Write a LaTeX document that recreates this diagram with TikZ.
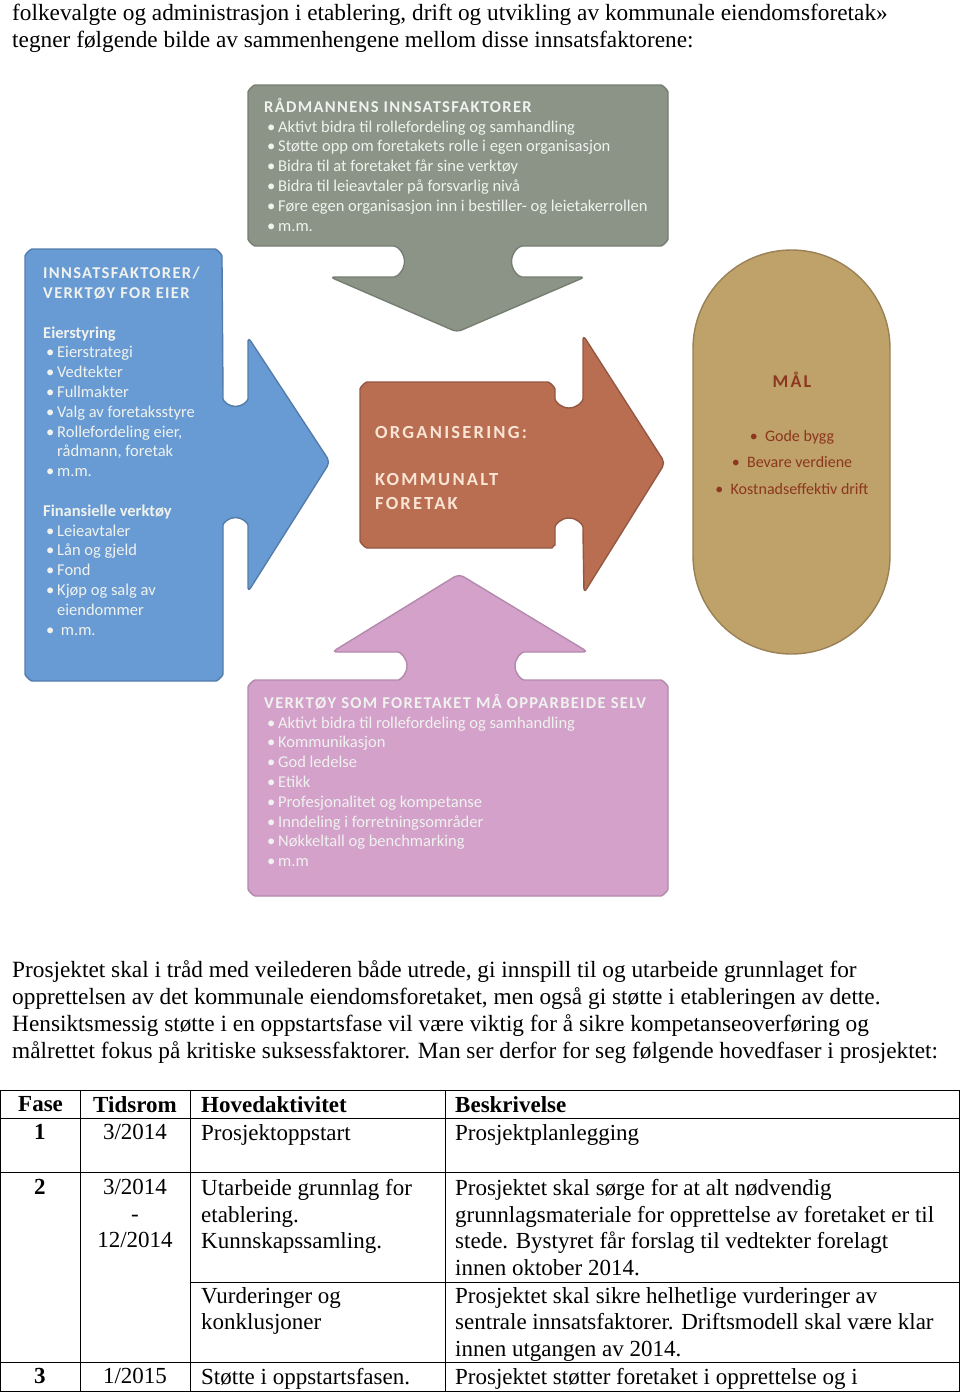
\documentclass[tikz,border=0pt]{standalone}
\usepackage{fontspec}
\setmainfont{Liberation Serif}
\newfontfamily\diafont{Carlito}
\newfontfamily\capsfont[LetterSpace=8]{Carlito}
\newfontfamily\widecapsfont[LetterSpace=12]{Carlito}
\definecolor{raadgray}{RGB}{139,148,134}
\definecolor{eierblue}{RGB}{104,155,212}
\definecolor{orgbrown}{RGB}{185,110,82}
\definecolor{maltan}{RGB}{191,161,106}
\definecolor{selvpink}{RGB}{211,161,202}
\definecolor{maltext}{RGB}{140,55,30}
\definecolor{orgtext}{RGB}{250,228,212}
\definecolor{lighttext}{RGB}{240,242,238}
\newcommand\bul{\hspace*{3pt}\makebox[11pt][l]{\textbullet}}
\newcommand\boxtitle[1]{{\capsfont\bfseries #1}}
\tikzset{
  shapeline/.style={line width=1.4pt, rounded corners=5},
  boxtext/.style={anchor=north west, inner sep=0pt, align=left, text=lighttext,
    font=\diafont\fontsize{16.5}{19.8}\selectfont},
  bodytext/.style={anchor=north west, inner sep=0pt, align=left,
    font=\fontsize{23.3}{27}\selectfont},
  cell/.style={anchor=north west, inner sep=0pt, align=left,
    font=\fontsize{23}{26.7}\selectfont},
  numcell/.style={cell, anchor=north, align=center},
  headcell/.style={cell, font=\bfseries\fontsize{23}{26.7}\selectfont},
  rule/.style={line width=0.9pt}
}
\begin{document}
\begin{tikzpicture}[x=1pt,y=-1pt]
\useasboundingbox (0,0) rectangle (960,1393);
\fill[white] (0,0) rectangle (960,1393);

% text above the picture
\node[bodytext] (intro) at (12,4) {folkevalgte og administrasjon i etablering, drift og utvikling av kommunale eiendomsforetak»\\
tegner følgende bilde av sammenhengene mellom disse innsatsfaktorene:};

% the five shapes
\draw[shapeline, fill=raadgray, draw=raadgray!85!black]
  (248,97) arc(180:270:12) -- (656,85) arc(270:360:12) -- (668,234) arc(0:90:12)
  -- (527,246) arc(-90:-270:15.5) -- (585,277) -- (457,332) -- (330,277)
  -- (389,277) arc(90:-90:15.5) -- (260,246) arc(90:180:12) -- cycle;
\draw[shapeline, fill=eierblue, draw=eierblue!80!black]
  (25,261) arc(180:270:12) -- (210,249) arc(270:360:12) -- (223,394) arc(180:0:12.5)
  -- (248,337) -- (330,462) -- (248,592) -- (248,530) arc(0:-180:12.5)
  -- (223,669) arc(0:90:12) -- (37,681) arc(90:180:12) -- cycle;
\draw[shapeline, fill=orgbrown, draw=orgbrown!80!black]
  (360,394) arc(180:270:12) -- (543,382) arc(270:360:12) -- (555,394) arc(180:0:14)
  -- (583,335) -- (665,463) -- (584,593) -- (583,532) arc(0:-180:14)
  -- (555,540) arc(0:90:8) -- (372,548) arc(90:180:12) -- cycle;
\draw[line width=1.4pt, fill=maltan, draw=maltan!80!black, rounded corners=98.5]
  (693,250) rectangle (890,654);
\draw[shapeline, fill=selvpink, draw=selvpink!85!black]
  (248,692) arc(180:270:12) -- (393,680) arc(90:-90:14) -- (332,652) -- (459,574)
  -- (588,652) -- (529,652) arc(-90:-270:14) -- (656,680) arc(270:360:12)
  -- (668,884) arc(0:90:12) -- (260,896) arc(90:180:12) -- cycle;

% texts in the shapes
\node[boxtext] (raad) at (264,98) {\boxtitle{RÅDMANNENS INNSATSFAKTORER}\\
\bul Aktivt bidra til rollefordeling og samhandling\\
\bul Støtte opp om foretakets rolle i egen organisasjon\\
\bul Bidra til at foretaket får sine verktøy\\
\bul Bidra til leieavtaler på forsvarlig nivå\\
\bul Føre egen organisasjon inn i bestiller- og leietakerrollen\\
\bul m.m.};
\node[boxtext] (eier) at (43,267) {\boxtitle{INNSATSFAKTORER/}\\
\boxtitle{VERKTØY FOR EIER}\\[19.8pt]
\textbf{Eierstyring}\\
\bul Eierstrategi\\
\bul Vedtekter\\
\bul Fullmakter\\
\bul Valg av foretaksstyre\\
\bul Rollefordeling eier,\\
\hspace*{14pt}rådmann, foretak\\
\bul m.m.\\[19.8pt]
\textbf{Finansielle verktøy}\\
\bul Leieavtaler\\
\bul Lån og gjeld\\
\bul Fond\\
\bul Kjøp og salg av\\
\hspace*{14pt}eiendommer\\
\bul \ m.m.};
\node[boxtext, text=orgtext, font=\widecapsfont\bfseries\fontsize{18.5}{23.8}\selectfont]
  (org) at (375,426) {ORGANISERING:\\[23.8pt] KOMMUNALT\\ FORETAK};
\node[inner sep=0pt, text=maltext, font=\widecapsfont\bfseries\fontsize{18}{19}\selectfont]
  (mal) at (792,380) {MÅL};
\node[inner sep=0pt, align=center, text=maltext, font=\diafont\fontsize{16}{26.5}\selectfont]
  (malliste) at (792,462) {\textbullet\ \ Gode bygg\\ \textbullet\ \ Bevare verdiene\\
  \textbullet\ \ Kostnadseffektiv drift};
\node[boxtext] (selv) at (264,694) {\boxtitle{VERKTØY SOM FORETAKET MÅ OPPARBEIDE SELV}\\
\bul Aktivt bidra til rollefordeling og samhandling\\
\bul Kommunikasjon\\
\bul God ledelse\\
\bul Etikk\\
\bul Profesjonalitet og kompetanse\\
\bul Inndeling i forretningsområder\\
\bul Nøkkeltall og benchmarking\\
\bul m.m};

% text below the picture
\node[bodytext] (prosjekt) at (12,960) {Prosjektet skal i tråd med veilederen både utrede, gi innspill til og utarbeide grunnlaget for\\
opprettelsen av det kommunale eiendomsforetaket, men også gi støtte i etableringen av dette.\\
Hensiktsmessig støtte i en oppstartsfase vil være viktig for å sikre kompetanseoverføring og\\
målrettet fokus på kritiske suksessfaktorer. Man ser derfor for seg følgende hovedfaser i prosjektet:};

% table of phases
\draw[rule] (0,1090) -- (960,1090) (0,1118) -- (960,1118) (0,1172) -- (960,1172)
  (190,1282) -- (960,1282) (0,1362) -- (960,1362) (0,1391) -- (960,1391);
\draw[rule] (0.5,1090) -- (0.5,1391) (80,1090) -- (80,1391) (190,1090) -- (190,1391)
  (445,1090) -- (445,1391) (959.5,1090) -- (959.5,1391);
\node[headcell] (fase) at (18,1096) {Fase};
\node[headcell] (tidsrom) at (93,1096) {Tidsrom};
\node[headcell] (hoved) at (201,1096) {Hovedaktivitet};
\node[headcell] (beskr) at (455,1096) {Beskrivelse};
\node[numcell, font=\bfseries\fontsize{23}{26.7}\selectfont] (faseA) at (40,1124) {1};
\node[numcell] (tidA) at (135,1124) {3/2014};
\node[cell] (hovedA) at (201,1124) {Prosjektoppstart};
\node[cell] (beskrA) at (455,1124) {Prosjektplanlegging};
\node[numcell, font=\bfseries\fontsize{23}{26.7}\selectfont] (faseB) at (40,1179) {2};
\node[numcell] (tidB) at (135,1179) {3/2014\\ -\\ 12/2014};
\node[cell] (hovedB) at (201,1179) {Utarbeide grunnlag for\\ etablering.\\ Kunnskapssamling.};
\node[cell] (beskrB) at (455,1179) {Prosjektet skal sørge for at alt nødvendig\\
grunnlagsmateriale for opprettelse av foretaket er til\\
stede. Bystyret får forslag til vedtekter forelagt\\
innen oktober 2014.};
\node[cell] (hovedC) at (201,1287) {Vurderinger og\\ konklusjoner};
\node[cell] (beskrC) at (455,1287) {Prosjektet skal sikre helhetlige vurderinger av\\
sentrale innsatsfaktorer. Driftsmodell skal være klar\\
innen utgangen av 2014.};
\node[numcell, font=\bfseries\fontsize{23}{26.7}\selectfont] (faseD) at (40,1368) {3};
\node[numcell] (tidD) at (135,1368) {1/2015};
\node[cell] (hovedD) at (201,1368) {Støtte i oppstartsfasen.};
\node[cell] (beskrD) at (455,1368) {Prosjektet støtter foretaket i opprettelse og i};
\end{tikzpicture}
\end{document}
